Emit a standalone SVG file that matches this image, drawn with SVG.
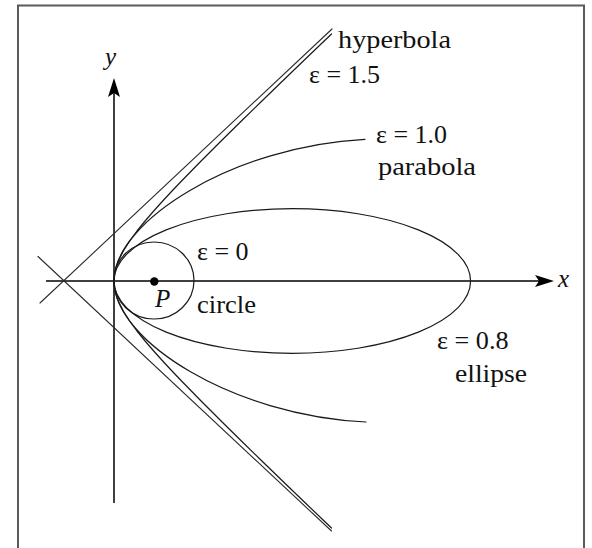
<svg xmlns="http://www.w3.org/2000/svg" width="592" height="548" viewBox="0 0 592 548">
<style>
.frame{fill:none;stroke:#5a5a5a;stroke-width:2}
.axis{fill:none;stroke:#000;stroke-width:1.5}
.curve{fill:none;stroke:#1a1a1a;stroke-width:1.2;stroke-linejoin:round;stroke-linecap:round}
.thin{fill:none;stroke:#2a2a2a;stroke-width:1.1;stroke-linecap:round}
.head{fill:#000;stroke:none}
text{font-family:"Liberation Serif","Times New Roman",serif;font-size:25px;fill:#111}
.it{font-style:italic}
</style>
<rect width="592" height="548" fill="#fff"/>
<path class="frame" d="M18,548 V5.5 H584 V548"/>
<g id="axes">
  <line class="axis" x1="46" y1="281" x2="540" y2="281"/>
  <path class="head" d="M554,281 L535,275 L539,281 L535,287 Z"/>
  <line class="axis" x1="114" y1="503" x2="114" y2="92"/>
  <path class="head" d="M114,78 L108,97 L114,93 L120,97 Z"/>
  <text class="it" x="558" y="287">x</text>
  <text class="it" x="105" y="65">y</text>
</g>
<g id="asymptotes">
  <line class="thin" x1="38" y1="256.5" x2="331.5" y2="531"/>
  <line class="thin" x1="40" y1="303" x2="332" y2="29"/>
</g>
<g id="hyperbola">
  <path class="curve" d="M331.5,34 L324.17,41 L303.32,61 L282.56,81 L261.91,101 L241.41,121 L221.1,141 L201.1,161 L181.55,181 L172.01,191 L162.71,201 L153.7,211 L145.08,221 L137,231 L129.66,241 L123.32,251 L118.34,261 L116.48,266 L115.12,271 L114.28,276 L114,281 L114.28,286 L115.12,291 L116.48,296 L118.34,301 L123.32,311 L129.66,321 L137,331 L145.08,341 L153.7,351 L162.71,361 L172.01,371 L181.55,381 L201.1,401 L221.1,421 L241.41,441 L261.91,461 L282.56,481 L303.32,501 L324.17,521 L331.5,528"/>
  <text x="338" y="48" textLength="113" lengthAdjust="spacingAndGlyphs">hyperbola</text>
  <text x="309" y="83" textLength="71" lengthAdjust="spacingAndGlyphs">ε = 1.5</text>
</g>
<g id="parabola">
  <path class="curve" d="M365,139.3 C234,146 114,221 114,281 C114,341 234,416 366,422"/>
  <text x="376" y="143" textLength="71" lengthAdjust="spacingAndGlyphs">ε = 1.0</text>
  <text x="378" y="175" textLength="98" lengthAdjust="spacingAndGlyphs">parabola</text>
</g>
<g id="ellipse">
  <ellipse class="curve" cx="292.3" cy="281" rx="178.3" ry="72.3"/>
  <text x="437" y="349" textLength="71.5" lengthAdjust="spacingAndGlyphs">ε = 0.8</text>
  <text x="455" y="382" textLength="72" lengthAdjust="spacingAndGlyphs">ellipse</text>
</g>
<g id="circle">
  <ellipse class="curve" cx="154" cy="280.5" rx="40" ry="38.5"/>
  <circle cx="154.3" cy="281.5" r="4.2" fill="#000"/>
  <text class="it" x="155" y="307" font-size="26">P</text>
  <text x="197" y="260" textLength="51.5" lengthAdjust="spacingAndGlyphs">ε = 0</text>
  <text x="197" y="313" textLength="59" lengthAdjust="spacingAndGlyphs">circle</text>
</g>
</svg>
